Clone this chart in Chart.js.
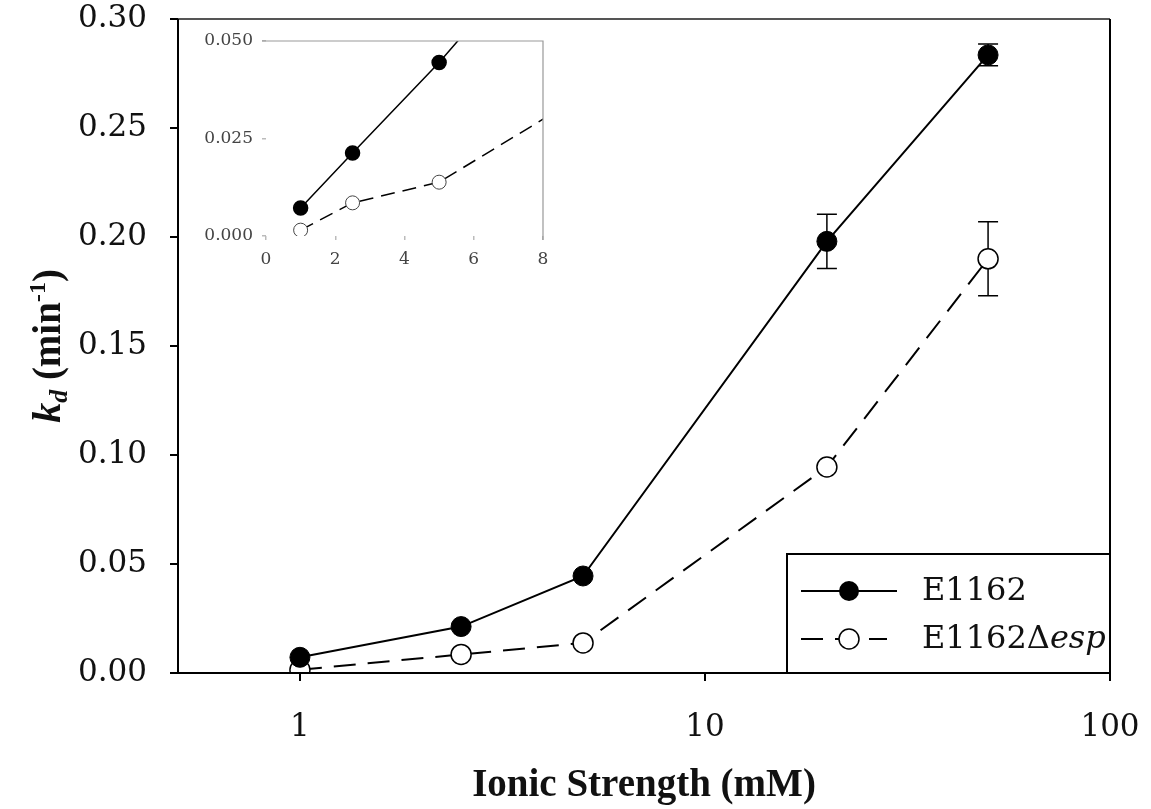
<!DOCTYPE html>
<html>
<head>
<meta charset="utf-8">
<script src="https://cdn.jsdelivr.net/npm/chart.js@4.4.0/dist/chart.umd.min.js"></script>
<style>
  html, body { margin: 0; padding: 0; background: #fff; }
  #wrap { position: relative; width: 1151px; height: 809px; }
  #main { position: absolute; left: 0; top: 0; }
  #inset { position: absolute; left: 190px; top: 22px; }
</style>
</head>
<body>
<div id="wrap">
  <canvas id="main" width="1151" height="809"></canvas>
  <canvas id="inset" width="375" height="260"></canvas>
</div>
<script>
// Data
const ionicStrength = [1, 2.5, 5, 20, 50];
const kdWild = [0.0072, 0.0213, 0.0445, 0.198, 0.2835];
const kdWildErr = [0, 0, 0, 0.0124, 0.005];
const kdMutant = [0.0015, 0.0085, 0.0138, 0.0945, 0.19];
const kdMutantErr = [0, 0, 0, 0, 0.017];
const seriesNames = ['E1162', 'E1162\u0394', 'esp'];
const xTicksMain = [1, 10, 100];
const xTicksInset = [0, 2, 4, 6, 8];
const yTicksInset = [0, 0.025, 0.05];

const SERIF = '"DejaVu Serif", serif';
const TITLE = '"Liberation Serif", serif';
const toPts = (ys) => ionicStrength.map((x, i) => ({ x, y: ys[i] }));
const noPad = (s) => { s.paddingTop = 0; s.paddingBottom = 0; s.paddingLeft = 0; s.paddingRight = 0; };

// main chart: frame, error bars, legend and y title drawn by hand
const framePlugin = {
  id: 'frame',
  beforeDatasetsDraw(chart) {
    const { ctx, scales: { x, y } } = chart;
    ctx.save();
    ctx.strokeStyle = '#000';
    ctx.lineWidth = 1.5;
    [[kdWild, kdWildErr], [kdMutant, kdMutantErr]].forEach(([vals, errs]) => {
      vals.forEach((v, i) => {
        if (!errs[i]) return;
        const px = x.getPixelForValue(ionicStrength[i]);
        const top = y.getPixelForValue(v + errs[i]);
        const bot = y.getPixelForValue(v - errs[i]);
        ctx.beginPath();
        ctx.moveTo(px, top); ctx.lineTo(px, bot);
        ctx.moveTo(px - 10, top); ctx.lineTo(px + 10, top);
        ctx.moveTo(px - 10, bot); ctx.lineTo(px + 10, bot);
        ctx.stroke();
      });
    });
    ctx.restore();
  },
  afterDraw(chart) {
    const { ctx, chartArea: a } = chart;
    ctx.save();
    ctx.lineWidth = 2;
    ctx.strokeStyle = '#555';
    ctx.beginPath(); ctx.moveTo(a.left, a.top); ctx.lineTo(a.right, a.top); ctx.stroke();
    ctx.strokeStyle = '#000';
    ctx.beginPath();
    ctx.moveTo(a.left, a.top); ctx.lineTo(a.left, a.bottom + 1);
    ctx.moveTo(a.left - 1, a.bottom); ctx.lineTo(a.right + 1, a.bottom);
    ctx.moveTo(a.right, a.top); ctx.lineTo(a.right, a.bottom + 8);
    ctx.stroke();

    // legend box
    const lx = 787, ly = 554;
    ctx.strokeRect(lx, ly, a.right - lx, a.bottom - ly);
    const ds = chart.data.datasets;
    let ry = 591;
    ctx.setLineDash([]);
    ctx.beginPath(); ctx.moveTo(801, ry); ctx.lineTo(897, ry); ctx.stroke();
    ctx.fillStyle = ds[0].pointBackgroundColor;
    ctx.beginPath(); ctx.arc(849, ry, 10, 0, Math.PI * 2); ctx.fill();
    ry = 639;
    ctx.setLineDash(ds[1].borderDash);
    ctx.beginPath(); ctx.moveTo(801, ry); ctx.lineTo(887, ry); ctx.stroke();
    ctx.setLineDash([]);
    ctx.fillStyle = '#fff';
    ctx.lineWidth = 1.5;
    ctx.beginPath(); ctx.arc(849, ry, 10, 0, Math.PI * 2); ctx.fill(); ctx.stroke();

    ctx.fillStyle = '#111';
    ctx.textBaseline = 'middle';
    ctx.textAlign = 'left';
    ctx.font = '32px ' + SERIF;
    ctx.fillText(seriesNames[0], 922, 592);
    ctx.fillText(seriesNames[1], 922, 640);
    const w = ctx.measureText(seriesNames[1]).width;
    ctx.font = 'italic 32px ' + SERIF;
    ctx.fillText(seriesNames[2], 922 + w, 640);

    // y axis title: k_d (min^-1), centred on the axis
    ctx.translate(60, (a.top + a.bottom) / 2);
    ctx.rotate(-Math.PI / 2);
    const parts = [
      ['italic bold 40px ' + TITLE, 'k', 0],
      ['italic bold 26px ' + TITLE, 'd', 7],
      ['bold 39px ' + TITLE, ' (min', 0],
      ['bold 24px ' + TITLE, '-1', -15],
      ['bold 39px ' + TITLE, ')', 0]
    ];
    let total = 0;
    parts.forEach(([f, t]) => { ctx.font = f; total += ctx.measureText(t).width; });
    let cx = -total / 2;
    ctx.textBaseline = 'alphabetic';
    parts.forEach(([f, t, dy]) => {
      ctx.font = f;
      ctx.fillText(t, cx, dy);
      cx += ctx.measureText(t).width;
    });
    ctx.restore();
  }
};

new Chart(document.getElementById('main'), {
  type: 'line',
  data: {
    datasets: [
      {
        label: 'E1162',
        data: toPts(kdWild),
        borderColor: '#000',
        borderWidth: 2,
        pointRadius: 10,
        pointBackgroundColor: '#000',
        pointBorderColor: '#000',
        pointBorderWidth: 1,
        tension: 0
      },
      {
        label: 'E1162\u0394esp',
        data: toPts(kdMutant),
        borderColor: '#000',
        borderWidth: 2,
        borderDash: [22, 12],
        pointRadius: 10,
        pointBackgroundColor: '#fff',
        pointBorderColor: '#000',
        pointBorderWidth: 1.5,
        tension: 0
      }
    ]
  },
  options: {
    responsive: false,
    animation: false,
    devicePixelRatio: 1,
    layout: { padding: { left: 0, top: 19, right: 41, bottom: 0 } },
    plugins: { legend: { display: false }, tooltip: { enabled: false } },
    scales: {
      x: {
        type: 'logarithmic',
        min: 0.5,
        max: 100,
        afterBuildTicks: (s) => { s.ticks = xTicksMain.map(v => ({ value: v })); },
        afterFit: (s) => { s.height = 136; noPad(s); },
        border: { display: false },
        grid: { drawOnChartArea: false, drawTicks: true, tickLength: 8, color: '#000', lineWidth: 2 },
        ticks: {
          autoSkip: false, maxRotation: 0, padding: 28, color: '#111',
          font: { family: SERIF, size: 31 },
          callback: (v) => String(v)
        },
        title: {
          display: true,
          text: 'Ionic Strength (mM)',
          color: '#111',
          font: { family: TITLE, size: 39, weight: 'bold' },
          padding: { top: 0, bottom: 0 }
        }
      },
      y: {
        min: 0,
        max: 0.3,
        afterFit: (s) => { s.width = 178; noPad(s); },
        border: { display: false },
        grid: { drawOnChartArea: false, drawTicks: true, tickLength: 8, color: '#000', lineWidth: 2 },
        ticks: {
          stepSize: 0.05, padding: 23, color: '#111',
          font: { family: SERIF, size: 31 },
          callback: (v) => v.toFixed(2)
        }
      }
    }
  },
  plugins: [framePlugin]
});

// inset: same data on linear axes, zoomed on the low range
const insetFrame = {
  id: 'insetFrame',
  afterDraw(chart) {
    const { ctx, chartArea: a } = chart;
    ctx.save();
    ctx.strokeStyle = '#999';
    ctx.lineWidth = 1.2;
    ctx.beginPath();
    ctx.moveTo(a.left - 4, a.top); ctx.lineTo(a.right, a.top);
    ctx.lineTo(a.right, a.bottom + 4);
    ctx.stroke();
    ctx.restore();
  }
};

new Chart(document.getElementById('inset'), {
  type: 'line',
  data: {
    datasets: [
      {
        data: toPts(kdWild),
        borderColor: '#000', borderWidth: 1.5,
        pointRadius: 7, pointBackgroundColor: '#000', pointBorderColor: '#000',
        tension: 0
      },
      {
        data: toPts(kdMutant),
        borderColor: '#000', borderWidth: 1.5, borderDash: [14, 8],
        pointRadius: 7, pointBackgroundColor: '#fff', pointBorderColor: '#444', pointBorderWidth: 1,
        tension: 0
      }
    ]
  },
  options: {
    responsive: false,
    animation: false,
    devicePixelRatio: 1,
    layout: { padding: { left: 0, top: 19, right: 22, bottom: 0 } },
    plugins: { legend: { display: false }, tooltip: { enabled: false } },
    scales: {
      x: {
        type: 'linear', min: 0, max: 8,
        afterBuildTicks: (s) => { s.ticks = xTicksInset.map(v => ({ value: v })); },
        afterFit: (s) => { s.height = 46; noPad(s); },
        border: { display: false },
        grid: { drawOnChartArea: false, drawTicks: true, tickLength: 4, color: '#bbb', lineWidth: 1.5 },
        ticks: { padding: 9, color: '#444', font: { family: SERIF, size: 17 }, callback: (v) => String(v) }
      },
      y: {
        min: 0, max: 0.05,
        afterBuildTicks: (s) => { s.ticks = yTicksInset.map(v => ({ value: v })); },
        afterFit: (s) => { s.width = 76; noPad(s); },
        border: { display: false },
        grid: { drawOnChartArea: false, drawTicks: true, tickLength: 4, color: '#bbb', lineWidth: 1.5 },
        ticks: { padding: 9, color: '#444', font: { family: SERIF, size: 17 }, callback: (v) => v.toFixed(3) }
      }
    }
  },
  plugins: [insetFrame]
});
</script>
</body>
</html>
